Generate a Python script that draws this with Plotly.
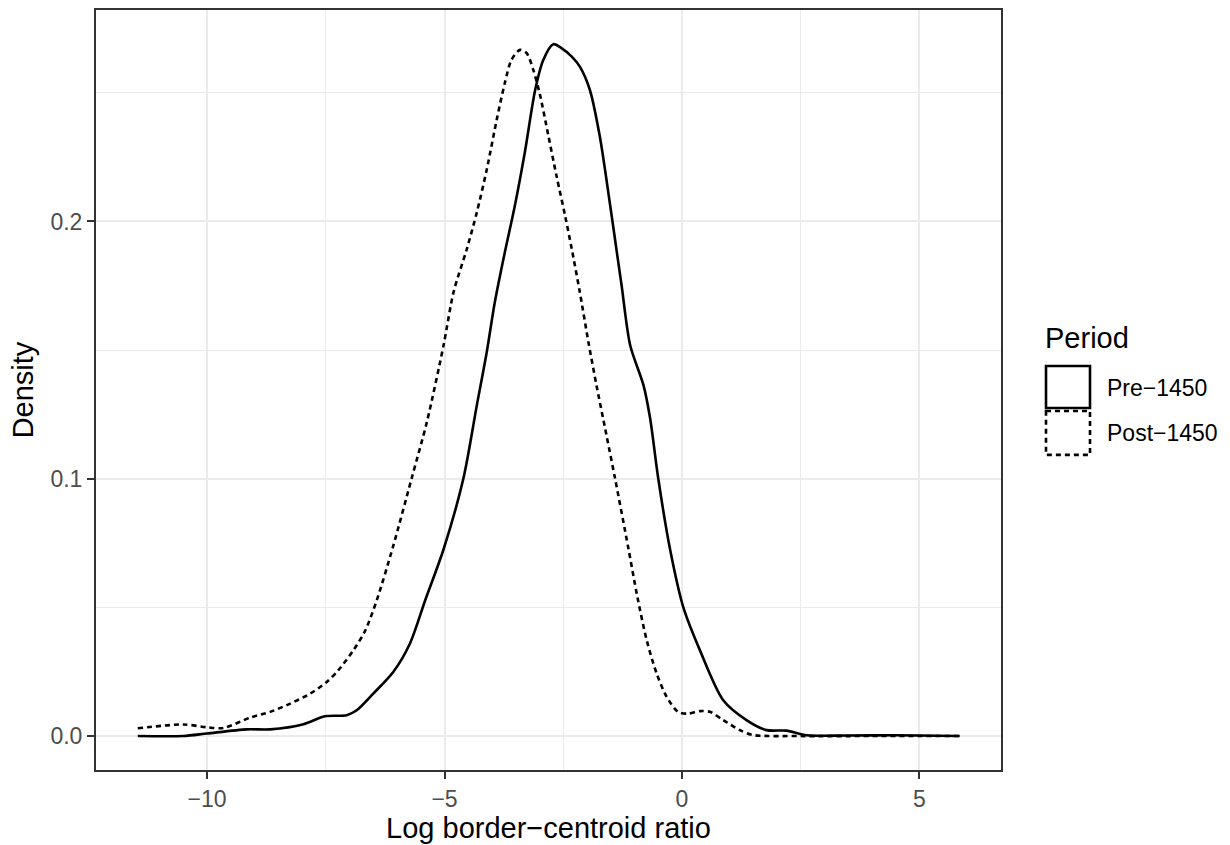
import plotly.graph_objects as go

# Kernel density estimates of the log border-centroid ratio, by period
pre_x = [-11.46, -10.5, -10.0, -9.16, -8.67, -7.97, -7.52, -7.06, -6.85, -6.5, -6.08,
         -5.73, -5.41, -5.02, -4.60, -4.32, -4.11, -3.94, -3.73, -3.52, -3.31, -3.09,
         -2.92, -2.71, -2.53, -2.32, -2.15, -1.94, -1.73, -1.52, -1.37, -1.27, -1.09,
         -0.81, -0.67, -0.5, -0.25, 0.03, 0.38, 0.87, 1.36, 1.78, 2.2, 2.63, 3.5, 4.5, 5.85]
pre_y = [0.0, 0.0, 0.001, 0.0026, 0.0026, 0.0046, 0.0077, 0.0081, 0.010, 0.0165, 0.0249,
         0.0359, 0.0526, 0.0726, 0.1003, 0.1285, 0.1493, 0.1687, 0.188, 0.206, 0.2267, 0.2512,
         0.2628, 0.2689, 0.2673, 0.2641, 0.2602, 0.2512, 0.2331, 0.2074, 0.188, 0.1751, 0.1519,
         0.1364, 0.1235, 0.1003, 0.0726, 0.050, 0.0333, 0.0139, 0.0062, 0.0023, 0.0021, 0.0003,
         0.0002, 0.0003, 0.0]

post_x = [-11.46, -10.5, -10.0, -9.66, -9.09, -8.67, -8.25, -7.83, -7.48, -7.24, -6.92,
          -6.67, -6.43, -6.08, -5.69, -5.37, -5.02, -4.81, -4.53, -4.32, -4.11, -3.90,
          -3.73, -3.59, -3.41, -3.27, -3.13, -2.99, -2.81, -2.64, -2.46, -2.32, -2.15,
          -1.97, -1.80, -1.59, -1.41, -1.13, -0.95, -0.74, -0.53, -0.32, -0.08, 0.13,
          0.38, 0.59, 0.87, 1.22, 1.50, 2.5, 4.0, 5.85]
post_y = [0.003, 0.0045, 0.0034, 0.0031, 0.0072, 0.0094, 0.0126, 0.0165, 0.021, 0.0255, 0.0333,
          0.041, 0.0526, 0.0739, 0.1003, 0.1222, 0.1519, 0.1725, 0.1893, 0.2035, 0.2202, 0.2396,
          0.2538, 0.2628, 0.2667, 0.2654, 0.2589, 0.2493, 0.2331, 0.2176, 0.2022, 0.1893, 0.1725,
          0.1532, 0.1364, 0.117, 0.1003, 0.0732, 0.0552, 0.0371, 0.0242, 0.0152, 0.0094, 0.0087,
          0.0097, 0.0094, 0.0062, 0.0023, 0.0004, 0.0, 0.0, 0.0]

periods = ["Pre\u22121450", "Post\u22121450"]
x_ticks = [-10, -5, 0, 5]
x_tick_text = ["\u221210", "\u22125", "0", "5"]
y_ticks = [0.0, 0.1, 0.2]
y_tick_text = ["0.0", "0.1", "0.2"]

FONT = "Liberation Sans, Arial, sans-serif"
TITLE_SIZE = 29
TEXT_SIZE = 23
LINE_W = 2.6
DASH = "5px,4px"
W, H = 1230, 845
ML, MR, MT, MB = 96, 229, 8, 75

fig = go.Figure()
fig.add_trace(go.Scatter(x=pre_x, y=pre_y, mode="lines", name=periods[0],
                         line=dict(color="black", width=LINE_W, shape="spline", smoothing=0.8),
                         showlegend=False))
fig.add_trace(go.Scatter(x=post_x, y=post_y, mode="lines", name=periods[1],
                         line=dict(color="black", width=LINE_W, dash=DASH,
                                   shape="spline", smoothing=0.8),
                         showlegend=False))


def px_x(p):
    return (p - ML) / (W - ML - MR)


def px_y(p):
    return (H - MB - p) / (H - MT - MB)


# Legend drawn as ggplot-style outlined keys
shapes = [
    dict(type="rect", xref="paper", yref="paper", x0=px_x(1046), x1=px_x(1090),
         y0=px_y(365), y1=px_y(407), line=dict(color="black", width=LINE_W)),
    dict(type="rect", xref="paper", yref="paper", x0=px_x(1046), x1=px_x(1090),
         y0=px_y(410), y1=px_y(454), line=dict(color="black", width=LINE_W, dash=DASH)),
]
annotations = [
    dict(text="Period", xref="paper", yref="paper", x=px_x(1043), y=px_y(337),
         xanchor="left", yanchor="middle", showarrow=False,
         font=dict(family=FONT, size=TITLE_SIZE, color="black")),
    dict(text=periods[0], xref="paper", yref="paper", x=px_x(1105), y=px_y(387),
         xanchor="left", yanchor="middle", showarrow=False,
         font=dict(family=FONT, size=TEXT_SIZE, color="black")),
    dict(text=periods[1], xref="paper", yref="paper", x=px_x(1105), y=px_y(432),
         xanchor="left", yanchor="middle", showarrow=False,
         font=dict(family=FONT, size=TEXT_SIZE, color="black")),
]

fig.update_layout(
    width=W, height=H,
    margin=dict(l=ML, r=MR, t=MT, b=MB),
    paper_bgcolor="white", plot_bgcolor="white",
    font=dict(family=FONT),
    shapes=shapes, annotations=annotations,
    xaxis=dict(
        range=[-12.34, 6.72], tickvals=x_ticks, ticktext=x_tick_text,
        showgrid=True, gridcolor="#EBEBEB", gridwidth=2,
        minor=dict(dtick=2.5, tick0=0, showgrid=True, gridcolor="#EBEBEB", gridwidth=1),
        showline=True, linecolor="#333333", linewidth=2, mirror=True,
        ticks="outside", ticklen=7, tickwidth=2, tickcolor="#333333",
        tickfont=dict(family=FONT, size=TEXT_SIZE, color="#4D4D4D"),
        title=dict(text="Log border\u2212centroid ratio", standoff=4,
                   font=dict(family=FONT, size=TITLE_SIZE, color="black")),
        zeroline=False,
    ),
    yaxis=dict(
        range=[-0.0132, 0.2822], tickvals=y_ticks, ticktext=y_tick_text,
        showgrid=True, gridcolor="#EBEBEB", gridwidth=2,
        minor=dict(dtick=0.05, tick0=0, showgrid=True, gridcolor="#EBEBEB", gridwidth=1),
        showline=True, linecolor="#333333", linewidth=2, mirror=True,
        ticks="outside", ticklen=7, tickwidth=2, tickcolor="#333333",
        tickfont=dict(family=FONT, size=TEXT_SIZE, color="#4D4D4D"),
        title=dict(text="Density", standoff=8,
                   font=dict(family=FONT, size=TITLE_SIZE, color="black")),
        zeroline=False,
    ),
)

fig.write_html("out.html")
